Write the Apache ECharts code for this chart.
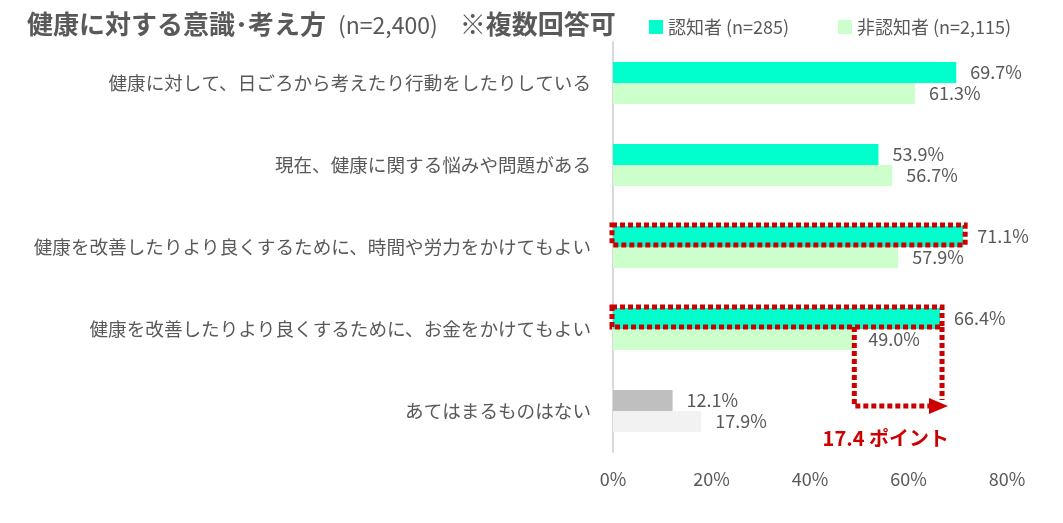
<!DOCTYPE html>
<html>
<head>
<meta charset="utf-8">
<script src="https://cdn.jsdelivr.net/npm/echarts@6/dist/echarts.min.js"></script>
<style>
html, body { margin: 0; padding: 0; background: #fff; }
#container { width: 1063px; height: 523px; }
</style>
</head>
<body>
<div id="container"></div>
<script>
let chart = echarts.init(document.getElementById('container'));

// categories (top to bottom)
let categories = [
    '健康に対して、日ごろから考えたり行動をしたりしている',
    '現在、健康に関する悩みや問題がある',
    '健康を改善したりより良くするために、時間や労力をかけてもよい',
    '健康を改善したりより良くするために、お金をかけてもよい',
    'あてはまるものはない'
];
let aware = [69.7, 53.9, 71.1, 66.4, 12.1];     // 認知者
let unaware = [61.3, 56.7, 57.9, 49.0, 17.9];   // 非認知者
let xTicks = [0, 20, 40, 60, 80];
let highlighted = [2, 3];   // red dotted boxes on 認知者 bars
let gapIndex = 3;           // category with the 17.4 point arrow

let font = '"Noto Sans CJK JP", "Noto Sans", sans-serif';
let grey = '#595959';
let red = '#CC0000';
let barW = 21;

let awareColors = ['#00FFCC', '#00FFCC', '#00FFCC', '#00FFCC', '#BFBFBF'];
let unawareColors = ['#CCFFCC', '#CCFFCC', '#CCFFCC', '#CCFFCC', '#F2F2F2'];

function barData(values, colors) {
    return values.map((v, i) => ({ value: v, itemStyle: { color: colors[i] } }));
}

let labelStyle = {
    show: true,
    position: 'right',
    distance: 14,
    fontFamily: font,
    fontSize: 18,
    color: grey,
    formatter: p => p.value.toFixed(1) + '%'
};

let legendBase = {
    top: 18,
    padding: 0,
    icon: 'rect',
    itemWidth: 14,
    itemHeight: 14,
    selectedMode: false,
    textStyle: { fontFamily: font, fontSize: 18, color: grey }
};

var option = {
    animation: false,
    textStyle: { fontFamily: font },
    title: {
        left: 27,
        top: 11,
        padding: 0,
        text: '{b|健康に対する意識･考え方}{n|(n=2,400)}{b|※複数回答可}',
        textStyle: {
            rich: {
                b: { fontFamily: font, fontSize: 26, fontWeight: 'bold', color: grey },
                n: { fontFamily: font, fontSize: 23, fontWeight: 'normal', color: grey, padding: [2, 22, 0, 12] }
            }
        }
    },
    legend: [
        Object.assign({}, legendBase, { left: 649, data: ['認知者 (n=285)'] }),
        Object.assign({}, legendBase, { left: 838, data: ['非認知者 (n=2,115)'] })
    ],
    grid: {
        left: 613,
        right: 56,
        top: 42,
        bottom: 71,
        containLabel: false
    },
    xAxis: {
        type: 'value',
        min: xTicks[0],
        max: xTicks[xTicks.length - 1],
        interval: xTicks[1] - xTicks[0],
        axisLine: { show: false },
        axisTick: { show: false },
        splitLine: { show: false },
        axisLabel: {
            margin: 18,
            fontFamily: font,
            fontSize: 18,
            color: grey,
            formatter: '{value}%'
        }
    },
    yAxis: {
        type: 'category',
        inverse: true,
        data: categories,
        axisLine: { show: true, lineStyle: { color: '#D9D9D9', width: 2 } },
        axisTick: { show: false },
        axisLabel: {
            margin: 22,
            fontFamily: font,
            fontSize: 18.6,
            color: grey
        }
    },
    series: [
        {
            name: '認知者 (n=285)',
            type: 'bar',
            barWidth: barW,
            barGap: '0%',
            itemStyle: { color: '#00FFCC' },
            label: labelStyle,
            data: barData(aware, awareColors)
        },
        {
            name: '非認知者 (n=2,115)',
            type: 'bar',
            barWidth: barW,
            barGap: '0%',
            itemStyle: { color: '#CCFFCC' },
            label: labelStyle,
            data: barData(unaware, unawareColors)
        }
    ]
};
chart.setOption(option);

// annotations: dotted boxes and the difference arrow, placed from data
function px(value, cat) {
    return chart.convertToPixel({ gridIndex: 0 }, [value, cat]);
}
let dotted = { stroke: red, lineWidth: 5, lineDash: [5, 3], fill: null };
let graphics = [];
let x0 = px(0, 0)[0];

highlighted.forEach(i => {
    let p = px(aware[i], i);
    graphics.push({
        type: 'rect',
        shape: { x: x0 - 1, y: p[1] - barW - 1, width: p[0] - x0 + 3, height: barW - 1 },
        style: dotted,
        z: 100
    });
});

let hi = px(aware[gapIndex], gapIndex);
let lo = px(unaware[gapIndex], gapIndex);
let next = px(0, gapIndex + 1);
let boxBottom = hi[1] - 2;
let yArrow = next[1] - 5;
let xr = hi[0] + 2;

graphics.push({
    type: 'polyline',
    shape: { points: [[lo[0], boxBottom], [lo[0], yArrow], [xr - 6, yArrow]] },
    style: dotted,
    z: 100
});
graphics.push({
    type: 'polyline',
    shape: { points: [[xr, boxBottom], [xr, yArrow - 6]] },
    style: dotted,
    z: 100
});
graphics.push({
    type: 'polygon',
    shape: { points: [[xr - 13, yArrow - 8], [xr + 6, yArrow], [xr - 13, yArrow + 8]] },
    style: { fill: red },
    z: 100
});
graphics.push({
    type: 'text',
    x: xr + 7,
    y: next[1] + 27,
    style: {
        text: (aware[gapIndex] - unaware[gapIndex]).toFixed(1) + ' ポイント',
        fontFamily: font,
        fontSize: 20,
        fontWeight: 'bold',
        fill: red,
        align: 'right',
        verticalAlign: 'middle'
    },
    z: 100
});

chart.setOption({ graphic: graphics });
</script>
</body>
</html>
